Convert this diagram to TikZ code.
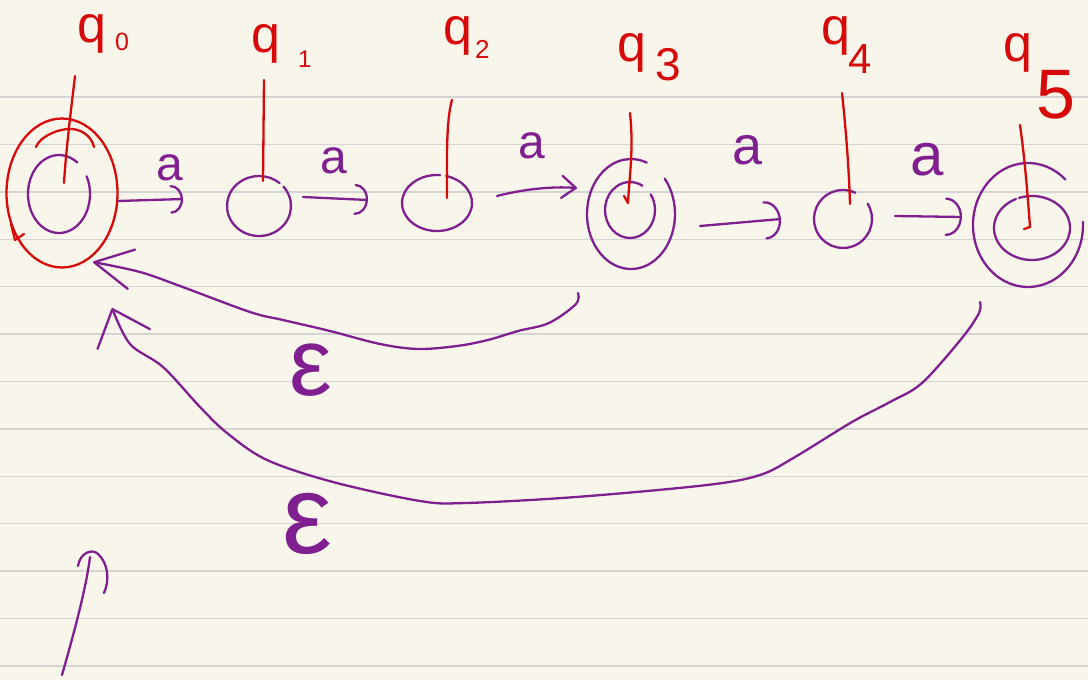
\documentclass[tikz,border=0pt]{standalone}
\usepackage{fontspec}
\setmainfont{Liberation Sans}
\usetikzlibrary{arrows.meta,shapes.geometric}
\definecolor{paper}{RGB}{248,246,234}
\definecolor{ruleline}{RGB}{212,212,212}
\definecolor{ink}{RGB}{128,32,144}
\definecolor{redink}{RGB}{214,10,10}
\begin{document}
\begin{tikzpicture}[x=1pt,y=-1pt,
  pen/.style={line width=2.3pt, line cap=round, line join=round},
  pp/.style={pen, draw=ink},
  rp/.style={pen, draw=redink},
  stnode/.style={ellipse, draw=none, inner sep=0pt},
  trarc/.style={pp, -{Arc Barb[length=#1, width=2.4*#1, round]}},
  trstr/.style={pp, -{Straight Barb[length=14pt, width=22pt, round]}},
  qlab/.style={text=redink, inner sep=0pt, anchor=base west, font=\fontsize{52}{52}\selectfont},
  alab/.style={text=ink, inner sep=0pt, anchor=base, font=\fontsize{48}{48}\selectfont},
  elab/.style={text=ink, inner sep=0pt, anchor=base},
  ruled/.style={draw=ruleline, line width=1.4pt}]
\useasboundingbox (0,0) rectangle (1088,680);
\fill[paper] (0,0) rectangle (1088,680);
\foreach \k in {0,...,12} \draw[ruled] (0,{97+47.4*\k}) -- (1088,{97+47.4*\k});

% state nodes
\node[stnode, minimum width=62pt, minimum height=78pt] (q0) at (59,194) {};
\node[ellipse, rp, inner sep=0pt, minimum width=111pt, minimum height=149pt] (q0ring) at (62,193) {};
\node[stnode, minimum width=64pt, minimum height=60pt] (q1) at (259,206) {};
\node[stnode, minimum width=70pt, minimum height=56pt] (q2) at (437,203) {};
\node[stnode, minimum width=50pt, minimum height=56pt] (q3) at (630,210) {};
\node[stnode, minimum width=88pt, minimum height=110pt] (q3f) at (631,214) {};
\node[stnode, minimum width=58pt, minimum height=58pt] (q4) at (843,219) {};
\node[stnode, minimum width=76pt, minimum height=64pt] (q5) at (1032,228) {};
\node[stnode, minimum width=110pt, minimum height=124pt] (q5f) at (1028,225) {};

\draw[pp] (q0.center) ++(-27:31 and 39) arc[start angle=-27, end angle=306, x radius=31, y radius=39];
\draw[pp] (q1.center) ++(-40:32 and 30) arc[start angle=-40, end angle=310, x radius=32, y radius=30];
\draw[pp] (q2.center) ++(-75:35 and 28) arc[start angle=-75, end angle=275, x radius=35, y radius=28];
\draw[pp] (q3.center) ++(-34:25 and 28) arc[start angle=-34, end angle=300, x radius=25, y radius=28];
\draw[pp] (q3f.center) ++(-40:44 and 55) arc[start angle=-40, end angle=291, x radius=44, y radius=55];
\draw[pp] (q4.center) ++(-32:29 and 29) arc[start angle=-32, end angle=295, x radius=29, y radius=29];
\draw[pp] (q5.center) ++(-110:38 and 32) arc[start angle=-110, end angle=245, x radius=38, y radius=32];
\draw[pp] (q5f.center) ++(-3:55 and 62) arc[start angle=-3, end angle=313, x radius=55, y radius=62];

% red marks on q0
\coordinate (r0a) at (36,147); \coordinate (r0b) at (94,147);
\draw[rp] (r0a) .. controls (40,136) and (60,128) .. (72,129) .. controls (84,130) and (92,138) .. (r0b);
\coordinate (r0c) at (11,224); \coordinate (r0d) at (24,234);
\draw[rp] (r0c) -- (15,240) -- (r0d);

% labels
\node[qlab] (lq0) at (77,42) {q\kern9pt\raisebox{-8pt}{\fontsize{25}{25}\selectfont 0}};
\node[qlab] (lq1) at (251,52) {q\kern18pt\raisebox{-15pt}{\fontsize{24}{24}\selectfont 1}};
\node[qlab] (lq2) at (443,44) {q\kern3pt\raisebox{-14pt}{\fontsize{26}{26}\selectfont 2}};
\node[qlab] (lq3) at (617,61) {q\kern9pt\raisebox{-19pt}{\fontsize{46}{46}\selectfont 3}};
\node[qlab] (lq4) at (821,44) {q\kern-2pt\raisebox{-29pt}{\fontsize{42}{42}\selectfont 4}};
\node[qlab] (lq5) at (1003,61) {q\kern4pt\raisebox{-57pt}{\fontsize{70}{70}\selectfont 5}};

% red pointer lines
\coordinate (p0) at (75,76);   \coordinate (p0e) at (64,183);
\coordinate (p1) at (264,80);  \coordinate (p1e) at (263,181);
\coordinate (p2) at (452,100); \coordinate (p2e) at (447,198);
\coordinate (p3) at (630,113); \coordinate (p3e) at (628,203);
\coordinate (p4) at (842,93);  \coordinate (p4e) at (850,204);
\coordinate (p5) at (1020,125);\coordinate (p5e) at (1030,227);
\draw[rp] (p0) .. controls (71,110) and (66,150) .. (p0e);
\draw[rp] (p1) -- (p1e);
\draw[rp] (p2) .. controls (446,120) and (447,160) .. (p2e);
\draw[rp] (p3) .. controls (634,150) and (629,180) .. (p3e) -- (624,196);
\draw[rp] (p4) .. controls (846,130) and (849,170) .. (p4e);
\draw[rp] (p5) .. controls (1025,160) and (1028,200) .. (p5e) -- (1024,229);

% transitions a
\coordinate (t1s) at (118,201); \coordinate (t1e) at (183,199);
\coordinate (t2s) at (303,197); \coordinate (t2e) at (368,200);
\coordinate (t3s) at (497,196); \coordinate (t3e) at (577,188);
\coordinate (t4s) at (700,226); \coordinate (t4e) at (781,219);
\coordinate (t5s) at (895,216); \coordinate (t5e) at (962,217);
\draw[trarc=12pt] (t1s) -- (t1e);
\draw[trarc=13pt] (t2s) -- (t2e);
\draw[trstr] (t3s) .. controls (520,190) and (550,186) .. (t3e);
\draw[trarc=16pt] (t4s) -- (t4e);
\draw[trarc=16pt] (t5s) -- (t5e);
\node[alab] (a1) at (170,180) {a};
\node[alab] (a2) at (334,173) {a};
\node[alab] (a3) at (532,158) {a};
\node[alab, font=\fontsize{54}{54}\selectfont] (a4) at (748,164) {a};
\node[alab, font=\fontsize{60}{60}\selectfont] (a5) at (927,175) {a};

% epsilon arrows
\coordinate (e1s) at (578,293); \coordinate (e1e) at (93,262);
\draw[pp, -{Straight Barb[length=38pt, width=40pt, round]}]
  plot[smooth, tension=0.55] coordinates {(e1s) (576,304) (549,323) (518,331) (488,340) (457,346) (418,349) (380,344) (330,331) (283,320) (250,312) (180,286) (140,272) (e1e)};
\coordinate (e2s) at (980,302); \coordinate (e2e) at (112,308);
\draw[pp, -{Straight Barb[length=32pt, width=56pt, round]}]
  plot[smooth, tension=0.55] coordinates {(e2s) (979,313) (962,338) (922,383) (890,402) (852,422) (795,457) (760,475) (707,485) (576,497) (466,503) (420,501) (333,482) (267,460) (227,433) (200,407) (163,367) (130,344) (e2e)};
\node[elab, font=\fontsize{96}{96}\selectfont] (eps1) at (311,395) {ε};
\node[elab, font=\fontsize{112}{112}\selectfont] (eps2) at (307,553) {ε};

% stray arrow bottom-left
\coordinate (b0) at (62,675); \coordinate (b1) at (90,557);
\coordinate (h0) at (78,566); \coordinate (h1) at (104,593);
\draw[pp] (b0) .. controls (72,640) and (86,590) .. (b1);
\draw[pp] (h0) .. controls (80,553) and (92,548) .. (98,554) .. controls (108,563) and (110,580) .. (h1);
\end{tikzpicture}
\end{document}
